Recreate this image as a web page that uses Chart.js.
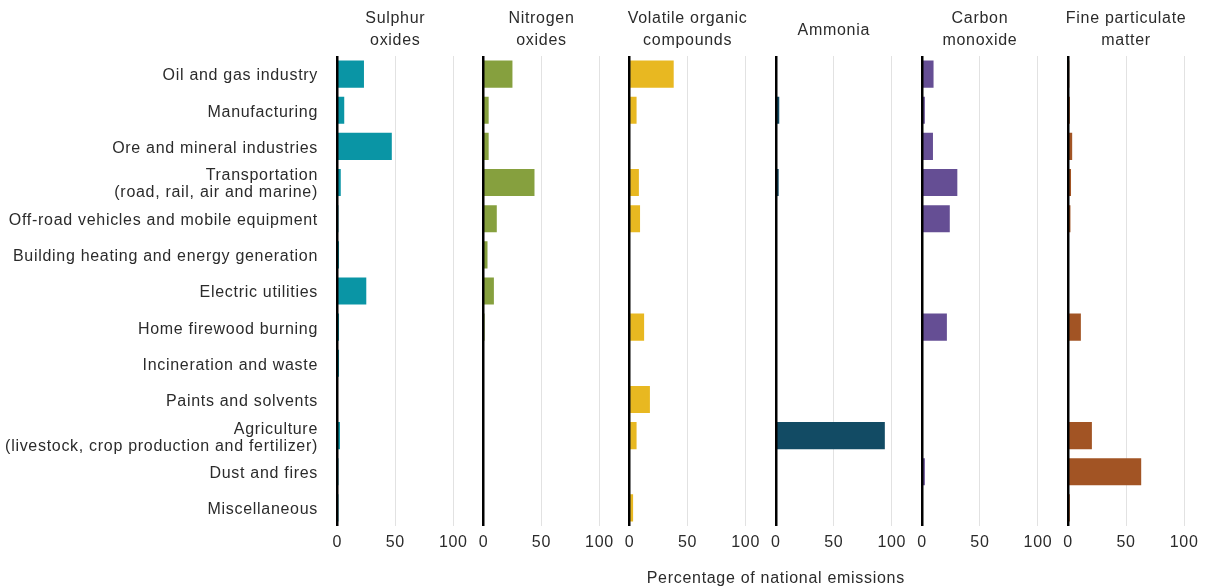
<!DOCTYPE html>
<html><head><meta charset="utf-8">
<script src="https://cdn.jsdelivr.net/npm/chart.js@4/dist/chart.umd.min.js"></script>
<style>html,body{margin:0;padding:0;background:#fff}#wrap{width:1205px;height:586px;position:relative}</style>
</head><body><div id="wrap"><canvas id="c" width="1205" height="586"></canvas></div>
<script>
const categories = [
  'Oil and gas industry', 'Manufacturing', 'Ore and mineral industries',
  ['Transportation', '(road, rail, air and marine)'],
  'Off-road vehicles and mobile equipment', 'Building heating and energy generation',
  'Electric utilities', 'Home firewood burning', 'Incineration and waste', 'Paints and solvents',
  ['Agriculture', '(livestock, crop production and fertilizer)'], 'Dust and fires', 'Miscellaneous'
];
const pollutants = [['Sulphur', 'oxides'], ['Nitrogen', 'oxides'], ['Volatile organic', 'compounds'], ['Ammonia'], ['Carbon', 'monoxide'], ['Fine particulate', 'matter']];
const sulphurOxides            = [23, 6, 47, 3, 1, 1.5, 25, 1.5, 1.5, 0.5, 2.3, 1, 1];
const nitrogenOxides           = [25, 4.5, 4.5, 44, 11.5, 3.5, 9, 1, 0, 0, 0, 0, 0];
const volatileOrganicCompounds = [38, 6, 0, 8, 9, 0, 0, 12.5, 0, 17.5, 6, 0, 3];
const ammonia                  = [0, 3, 0, 2.5, 0, 0, 0, 0, 1, 0, 94, 0, 0];
const carbonMonoxide           = [10, 2.5, 9.5, 30.5, 24, 0, 0, 21.5, 0, 0, 0, 2.5, 0];
const fineParticulateMatter    = [1, 1.5, 3.5, 2.5, 2, 0, 0, 11, 0, 0, 20.5, 63, 1.5];
const xTicks = [0, 50, 100];
const axisTitle = 'Percentage of national emissions';

const series = [sulphurOxides, nitrogenOxides, volatileOrganicCompounds, ammonia, carbonMonoxide, fineParticulateMatter];
const colors = ['#0a95a5', '#86a03e', '#e8b821', '#124b64', '#654e94', '#a25424'];
const FONT = "'Liberation Sans', Arial, sans-serif";
const TEXT = '#2b2b2b';
const SPACING = '0.7px';
Chart.defaults.font.family = FONT;

const noPad = s => { s.paddingLeft = 0; s.paddingRight = 0; };

const scales = {
  y: {
    type: 'category', position: 'left', offset: true,
    grid: { display: false, drawTicks: false }, border: { display: false },
    ticks: { padding: 10, labelOffset: 2, color: TEXT, autoSkip: false, font: { size: 16, lineHeight: 17 / 16 } },
    afterFit: s => { s.width = 328; s.paddingTop = 0; s.paddingBottom = 0; }
  }
};
series.forEach((_, i) => {
  scales['x' + i] = {
    type: 'linear', position: 'bottom', stack: 'bottom', stackWeight: 1,
    min: -8, max: 118,
    afterBuildTicks: s => { s.ticks = xTicks.map(v => ({ value: v })); },
    grid: { drawTicks: false, lineWidth: 1, color: c => (c.tick && c.tick.value === 0) ? 'rgba(0,0,0,0)' : '#e2e2e2' },
    border: { display: false },
    ticks: { padding: 7, color: TEXT, autoSkip: false, maxRotation: 0, font: { size: 16, lineHeight: 1.2 } },
    afterFit: s => { s.height = 60; noPad(s); }
  };
});
// top axes are laid out in reverse order, so add them last-to-first
for (let i = series.length - 1; i >= 0; i--) {
  scales['t' + i] = {
    type: 'linear', position: 'top', stack: 'top', stackWeight: 1,
    min: -8, max: 118,
    afterBuildTicks: s => { s.ticks = [{ value: 0 }, { value: 50 }]; },
    grid: { drawTicks: false, z: 1, lineWidth: 2.5, color: c => (c.tick && c.tick.value === 0) ? '#000' : 'rgba(0,0,0,0)' },
    border: { display: false },
    ticks: {
      padding: pollutants[i].length === 1 ? 14 : 4, color: TEXT, autoSkip: false, maxRotation: 0,
      font: { size: 16, lineHeight: 22 / 16 },
      callback: v => v === 50 ? pollutants[i] : ''
    },
    afterFit: s => { s.height = 56; noPad(s); }
  };
}

const textStyle = {
  id: 'textStyle',
  beforeDraw(chart) { chart.ctx.letterSpacing = SPACING; }
};
const bottomTitle = {
  id: 'bottomTitle',
  afterDraw(chart) {
    const ctx = chart.ctx;
    ctx.save();
    ctx.font = '16px ' + FONT;
    ctx.fillStyle = TEXT;
    ctx.textAlign = 'center';
    ctx.textBaseline = 'middle';
    ctx.fillText(axisTitle, chart.scales.x3.getPixelForValue(0), 579);
    ctx.restore();
  }
};

new Chart(document.getElementById('c'), {
  type: 'bar',
  data: {
    labels: categories,
    datasets: series.map((d, i) => ({
      label: pollutants[i].join(' '),
      data: d,
      xAxisID: 'x' + i,
      yAxisID: 'y',
      backgroundColor: colors[i],
      barPercentage: 0.75,
      categoryPercentage: 1,
      grouped: false
    }))
  },
  options: {
    indexAxis: 'y',
    responsive: false,
    animation: false,
    devicePixelRatio: 1,
    layout: { padding: 0 },
    plugins: { legend: { display: false }, tooltip: { enabled: false }, title: { display: false } },
    scales
  },
  plugins: [textStyle, bottomTitle]
});
</script>
</body></html>
